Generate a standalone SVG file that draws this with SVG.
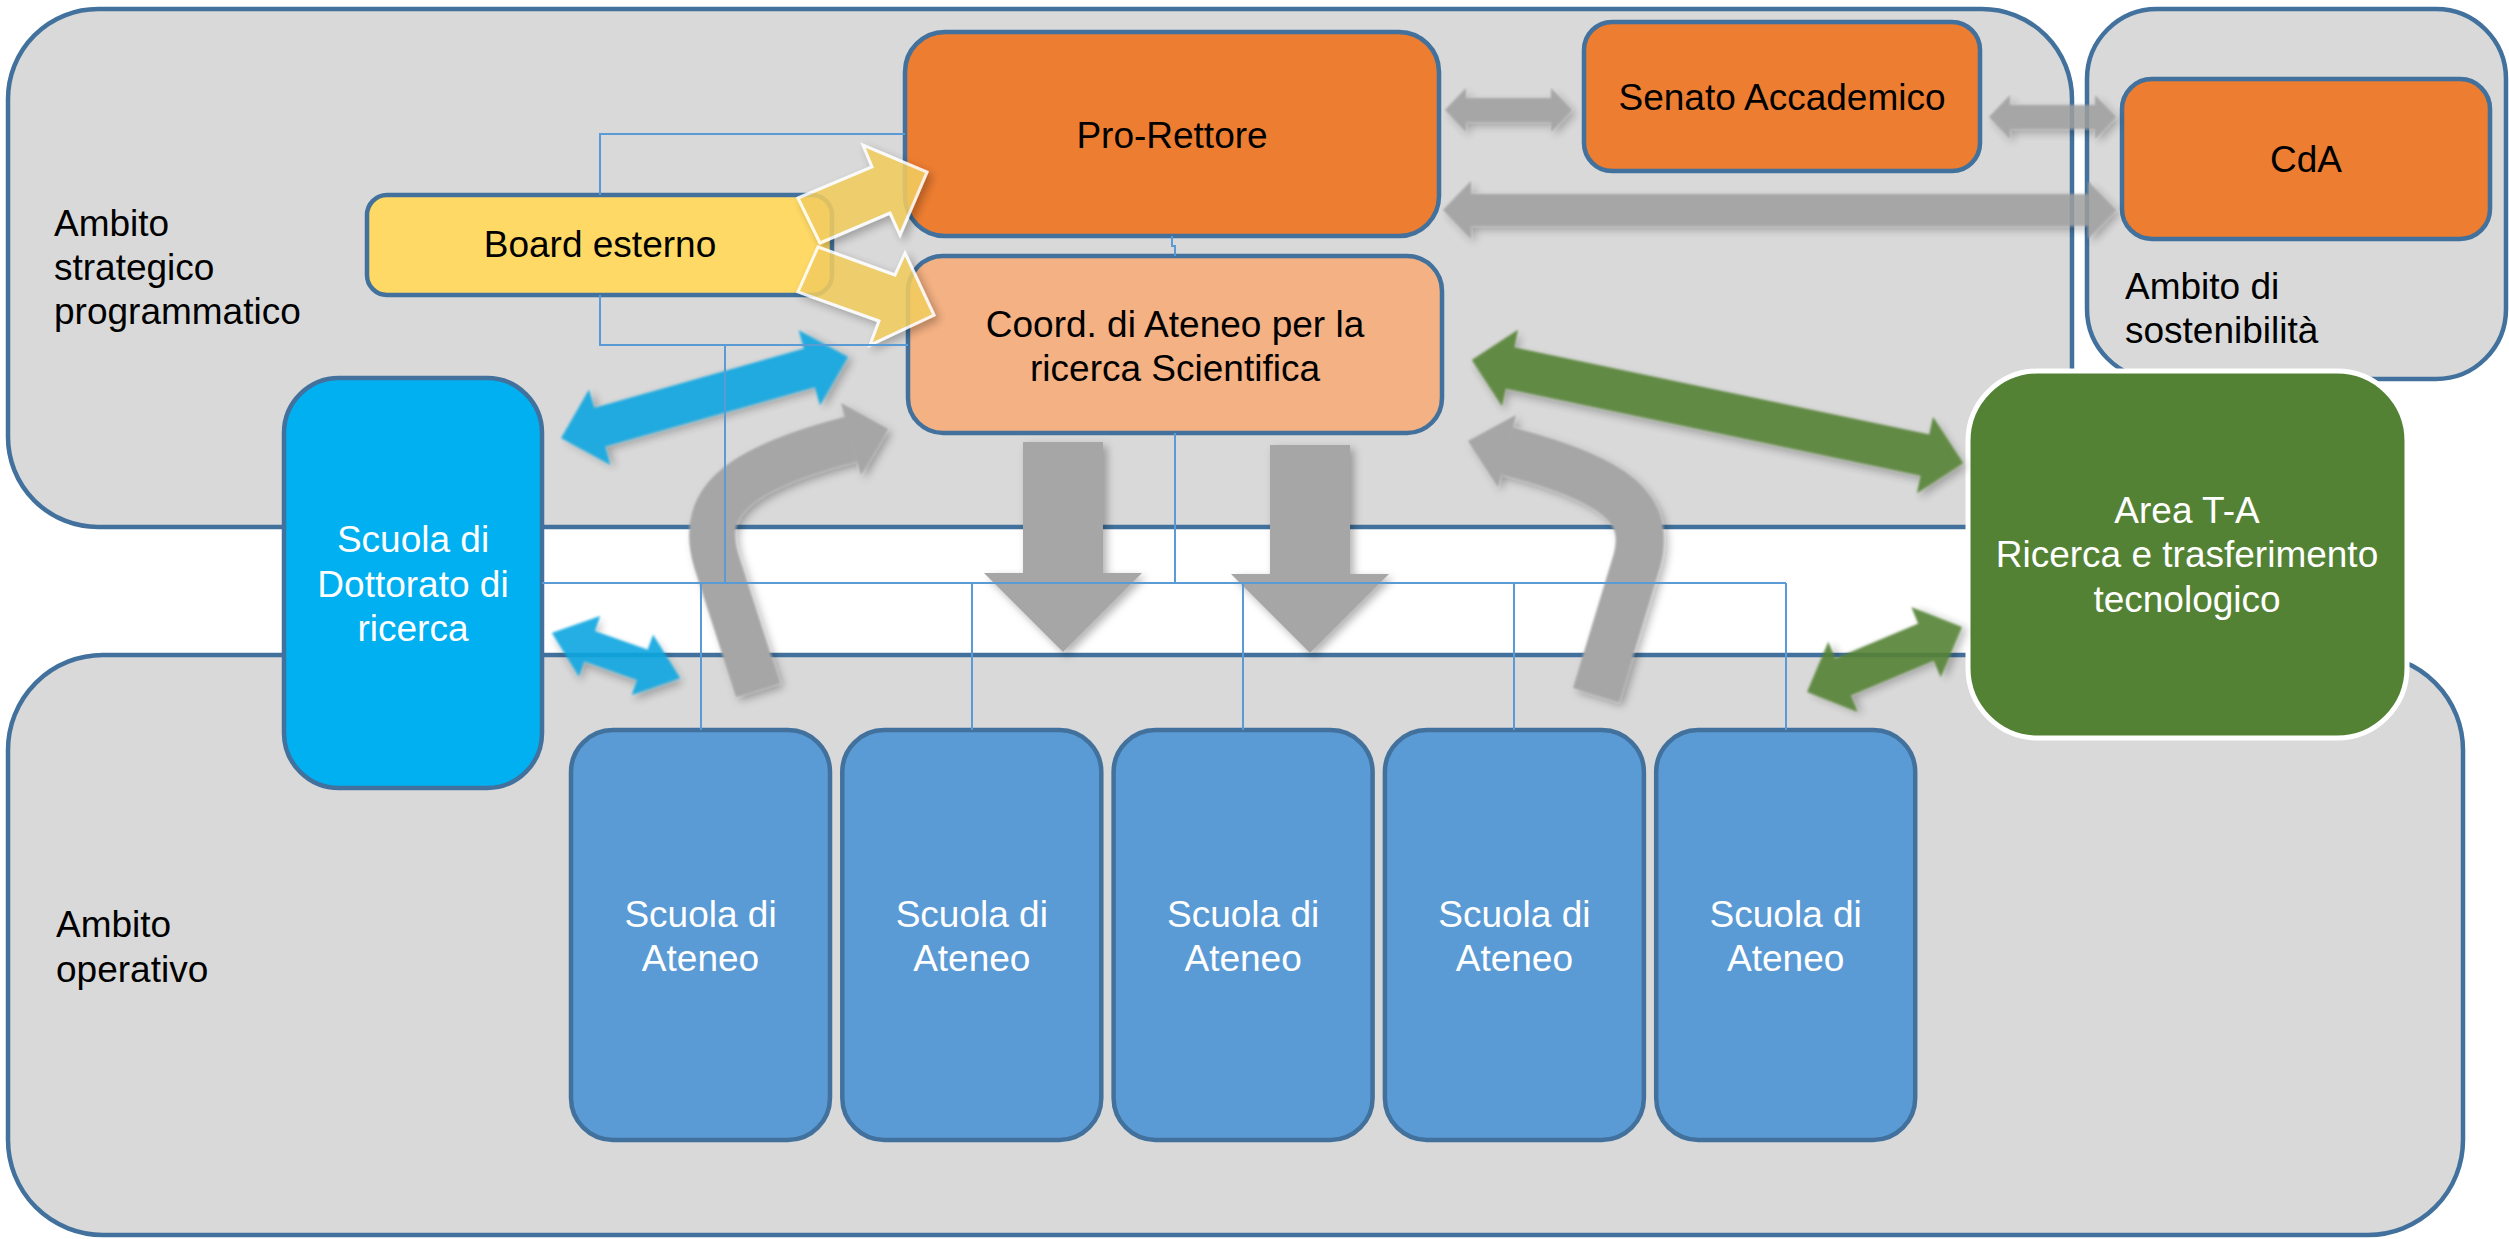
<svg xmlns="http://www.w3.org/2000/svg" width="2509" height="1239" viewBox="0 0 2509 1239">
<defs>
<style>
.cont{fill:#D9D9D9;stroke:#41719C;stroke-width:4.5}
.box{stroke:#41719C;stroke-width:4.5}
.t{font-family:"Liberation Sans",Arial,sans-serif;font-size:37px;fill:#000}
.w{fill:#FFFFFF}
.c{text-anchor:middle}
.ln{fill:none;stroke:#5B9BD5;stroke-width:2}
.gray{fill:#9E9E9E;opacity:0.85}
.solid{fill:#A6A6A6}
.blue{fill:#0AA6E0;opacity:0.9}
.green{fill:#548235;opacity:0.9}
.yel{fill:#F2CC5E;opacity:0.88;stroke:#FFFFFF;stroke-width:3;stroke-linejoin:miter}
</style>
<filter id="soft" x="-25%" y="-25%" width="150%" height="150%">
<feGaussianBlur in="SourceAlpha" stdDeviation="4"/>
<feOffset dx="4" dy="4" result="off"/>
<feFlood flood-color="#000" flood-opacity="0.3"/>
<feComposite in2="off" operator="in" result="shadow"/>
<feGaussianBlur in="SourceGraphic" stdDeviation="1.3" result="src"/>
<feMerge><feMergeNode in="shadow"/><feMergeNode in="src"/></feMerge>
</filter>
<filter id="shad" x="-25%" y="-25%" width="150%" height="150%">
<feGaussianBlur in="SourceAlpha" stdDeviation="4"/>
<feOffset dx="4" dy="4" result="off"/>
<feFlood flood-color="#000" flood-opacity="0.3"/>
<feComposite in2="off" operator="in" result="shadow"/>
<feMerge><feMergeNode in="shadow"/><feMergeNode in="SourceGraphic"/></feMerge>
</filter>
</defs>
<rect width="2509" height="1239" fill="#FFFFFF"/>

<g id="ambito-strategico">
<rect class="cont" x="8" y="9" width="2064" height="518" rx="90"/>
<text class="t" x="54" y="236">Ambito</text>
<text class="t" x="54" y="280">strategico</text>
<text class="t" x="54" y="324">programmatico</text>
</g>
<g id="ambito-sostenibilita">
<rect class="cont" x="2087" y="9" width="419" height="370" rx="70"/>
<text class="t" x="2125" y="299">Ambito di</text>
<text class="t" x="2125" y="343">sostenibilità</text>
</g>
<g id="ambito-operativo">
<rect class="cont" x="8" y="655" width="2455" height="580" rx="95"/>
<text class="t" x="56" y="937">Ambito</text>
<text class="t" x="56" y="982">operativo</text>
</g>

<g id="pro-rettore">
<rect class="box" x="905" y="32" width="534" height="204" rx="40" fill="#ED7D31"/>
<text class="t c" x="1172" y="148">Pro-Rettore</text>
</g>
<g id="senato">
<rect class="box" x="1584" y="22" width="396" height="149" rx="28" fill="#ED7D31"/>
<text class="t c" x="1782" y="110">Senato Accademico</text>
</g>
<g id="cda">
<rect class="box" x="2122" y="79" width="368" height="160" rx="30" fill="#ED7D31"/>
<text class="t c" x="2306" y="172">CdA</text>
</g>
<g id="coord">
<rect class="box" x="908" y="256" width="534" height="177" rx="35" fill="#F4B183"/>
<text class="t c" x="1175" y="337">Coord. di Ateneo per la</text>
<text class="t c" x="1175" y="381">ricerca Scientifica</text>
</g>
<g id="board">
<rect class="box" x="367" y="195" width="465" height="100" rx="20" fill="#FFD966"/>
<text class="t c" x="600" y="257">Board esterno</text>
</g>
<g id="dottorato">
<rect class="box" x="284" y="378" width="258" height="410" rx="55" fill="#00B0F0"/>
<text class="t c w" x="413" y="552">Scuola di</text>
<text class="t c w" x="413" y="597">Dottorato di</text>
<text class="t c w" x="413" y="641">ricerca</text>
</g>
<g id="ateneo1">
<rect class="box" x="571" y="730" width="259" height="410" rx="42" fill="#5B9BD5"/>
<text class="t c w" x="700.5" y="927">Scuola di</text>
<text class="t c w" x="700.5" y="971">Ateneo</text>
</g>
<g id="ateneo2">
<rect class="box" x="842.3" y="730" width="259" height="410" rx="42" fill="#5B9BD5"/>
<text class="t c w" x="971.8" y="927">Scuola di</text>
<text class="t c w" x="971.8" y="971">Ateneo</text>
</g>
<g id="ateneo3">
<rect class="box" x="1113.6" y="730" width="259" height="410" rx="42" fill="#5B9BD5"/>
<text class="t c w" x="1243.1" y="927">Scuola di</text>
<text class="t c w" x="1243.1" y="971">Ateneo</text>
</g>
<g id="ateneo4">
<rect class="box" x="1384.9" y="730" width="259" height="410" rx="42" fill="#5B9BD5"/>
<text class="t c w" x="1514.4" y="927">Scuola di</text>
<text class="t c w" x="1514.4" y="971">Ateneo</text>
</g>
<g id="ateneo5">
<rect class="box" x="1656.2" y="730" width="259" height="410" rx="42" fill="#5B9BD5"/>
<text class="t c w" x="1785.7" y="927">Scuola di</text>
<text class="t c w" x="1785.7" y="971">Ateneo</text>
</g>
<g id="area-ta">
<rect x="1968" y="371" width="439" height="367" rx="70" fill="#548235" stroke="#FFFFFF" stroke-width="5"/>
<text class="t c w" x="2187" y="523">Area T-A</text>
<text class="t c w" x="2187" y="567">Ricerca e trasferimento</text>
<text class="t c w" x="2187" y="612">tecnologico</text>
</g>

<g id="arrows">
<polygon class="gray" filter="url(#soft)" points="1445,110 1466,88 1466,98 1551,98 1551,88 1572,110 1551,132 1551,122 1466,122 1466,132"/>
<polygon class="gray" filter="url(#soft)" points="1989,117 2010,95 2010,105 2095,105 2095,95 2116,117 2095,139 2095,129 2010,129 2010,139"/>
<polygon class="gray" filter="url(#soft)" points="1443,210 1471,181 1471,194 2088,194 2088,181 2116,210 2088,239 2088,226 1471,226 1471,239"/>
<polygon class="solid" filter="url(#shad)" points="1023,442 1103,442 1103,573 1142,573 1063,652 984,573 1023,573"/>
<polygon class="solid" filter="url(#shad)" points="1270,445 1350,445 1350,574 1389,574 1310,653 1231,574 1270,574"/>
<g filter="url(#soft)">
<path d="M758,690 L716,560 C700,505 730,470 851,439" fill="none" stroke="#A6A6A6" stroke-width="46"/>
<polygon class="solid" points="841,403 888,429 861,475"/>
</g>
<g filter="url(#soft)">
<path d="M1596,695 L1637,560 C1650,510 1620,480 1507,451" fill="none" stroke="#A6A6A6" stroke-width="48"/>
<polygon class="solid" points="1516,415 1468,441 1498,487"/>
</g>
<polygon class="blue" filter="url(#soft)" transform="translate(704.5,397.5) rotate(-15.8)" points="-149,0 -109,-39 -109,-20 109,-20 109,-39 149,0 109,39 109,20 -109,20 -109,39"/>
<polygon class="blue" filter="url(#soft)" transform="translate(616,655.5) rotate(19.4)" points="-68,0 -28,-32 -28,-16 28,-16 28,-32 68,0 28,32 28,16 -28,16 -28,32"/>
<polygon class="green" filter="url(#soft)" transform="translate(1717.5,411.5) rotate(11.85)" points="-251,0 -212,-39 -212,-21 212,-21 212,-39 251,0 212,39 212,21 -212,21 -212,39"/>
<polygon class="green" filter="url(#soft)" transform="translate(1884.5,659.5) rotate(-22.75)" points="-84,0 -45,-38 -45,-20 45,-20 45,-38 84,0 45,38 45,20 -45,20 -45,38"/>
<polygon class="yel" filter="url(#shad)" points="798,198 872,167 863,145 927,172 900,235 890,213 820,243"/>
<polygon class="yel" filter="url(#shad)" points="818,247 895,275 905,253 934,315 870,345 879,321 798,292"/>
</g>

<g id="connectors">
<path class="ln" d="M905,134 H600 V195"/>
<path class="ln" d="M600,295 V345 H908"/>
<path class="ln" d="M1172,236 V246 H1175 V256"/>
<path class="ln" d="M908,345 H725 V583 H542"/>
<path class="ln" d="M1175,433 V583"/>
<path class="ln" d="M701,583 H1786"/>
<path class="ln" d="M701,583 V730 M972,583 V730 M1243,583 V730 M1514,583 V730 M1786,583 V730"/>
</g>
</svg>
